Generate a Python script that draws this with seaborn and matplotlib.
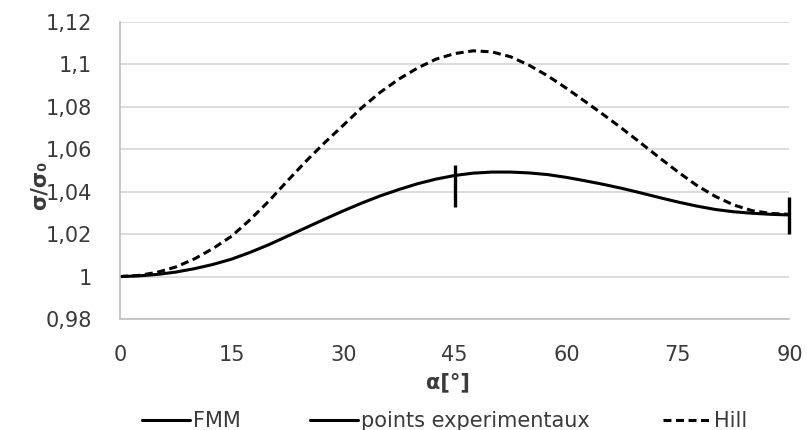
import matplotlib
matplotlib.use("Agg")
import matplotlib.pyplot as plt
from matplotlib.lines import Line2D
from matplotlib.ticker import FuncFormatter, MultipleLocator
import seaborn as sns
import pandas as pd

# angle alpha in degrees, values of sigma/sigma0
alpha = [0, 2.5, 5, 7.5, 10, 12.5, 15, 17.5, 20, 22.5, 25, 27.5, 30, 32.5, 35, 37.5, 40, 42.5,
         45, 47.5, 50, 52.5, 55, 57.5, 60, 62.5, 65, 67.5, 70, 72.5, 75, 77.5, 80, 82.5, 85, 87.5, 90]
fmm = [1.0000, 1.0003, 1.0010, 1.0021, 1.0037, 1.0057, 1.0082, 1.0114, 1.0150, 1.0190, 1.0230,
       1.0270, 1.0309, 1.0346, 1.0380, 1.0410, 1.0437, 1.0459, 1.0476, 1.0487, 1.0492, 1.0492,
       1.0488, 1.0480, 1.0467, 1.0451, 1.0434, 1.0415, 1.0394, 1.0372, 1.0351, 1.0332, 1.0316,
       1.0305, 1.0298, 1.0293, 1.0290]
hill = [1.0000, 1.0005, 1.0020, 1.0045, 1.0083, 1.0132, 1.0190, 1.0268, 1.0355, 1.0450, 1.0543,
        1.0630, 1.0712, 1.0795, 1.0868, 1.0930, 1.0982, 1.1024, 1.1050, 1.1063, 1.1058, 1.1035,
        1.0995, 1.0945, 1.0887, 1.0825, 1.0762, 1.0697, 1.0629, 1.0560, 1.0493, 1.0430, 1.0378,
        1.0337, 1.0310, 1.0297, 1.0293]

# experimental points (vertical bars)
exp_alpha = [45, 90]
exp_lo = [1.0327, 1.0200]
exp_hi = [1.0525, 1.0376]

sns.set_theme(style="white")
plt.rcParams["font.family"] = ["DejaVu Sans"]

df = pd.DataFrame({"alpha": alpha, "FMM": fmm, "Hill": hill})
txt = "#3a3a3a"
fs = 15
dash = (0, (2.6, 1.5))

fig = plt.figure(figsize=(8.07, 4.30), dpi=100)
ax = fig.add_axes([0.1487, 0.2581, 0.8296, 0.6914])

sns.lineplot(data=df, x="alpha", y="Hill", ax=ax, color="black", lw=2.2, linestyle=dash)
sns.lineplot(data=df, x="alpha", y="FMM", ax=ax, color="black", lw=2.2)
ax.vlines(exp_alpha, exp_lo, exp_hi, color="black", lw=2.4, clip_on=False, zorder=5)

ax.set_xlim(0, 90)
ax.set_ylim(0.98, 1.12)
ax.xaxis.set_major_locator(MultipleLocator(15))
ax.yaxis.set_major_locator(MultipleLocator(0.02))
ax.yaxis.set_major_formatter(FuncFormatter(
    lambda v, p: f"{v:.2f}".rstrip("0").rstrip(".").replace(".", ",")))
ax.grid(axis="y", color="#d9d9d9", lw=1.3)
ax.grid(axis="x", visible=False)
for s in ["top", "right"]:
    ax.spines[s].set_visible(False)
for s in ["left", "bottom"]:
    ax.spines[s].set_color("#bfbfbf")
    ax.spines[s].set_linewidth(1.2)
ax.tick_params(axis="both", which="major", labelsize=fs, colors=txt,
               length=5, width=1, direction="out", color="#bfbfbf")
ax.tick_params(axis="x", pad=14)
ax.tick_params(axis="y", pad=15)

ax.set_xlabel("α[°]", fontsize=fs, fontweight="bold", color=txt, va="top")
ax.xaxis.set_label_coords(0.49, -0.18)
ax.set_ylabel("σ/σ₀", fontsize=fs, fontweight="bold", color=txt)
ax.yaxis.set_label_coords(-0.105, 0.45)

# legend: three separate entries placed like the original
entries = [("FMM", "-", 142), ("points experimentaux", "-", 310), ("Hill", dash, 663)]
for label, ls, xpx in entries:
    h = Line2D([], [], color="black", lw=2.2, linestyle=ls)
    fig.legend([h], [label], loc="center left", bbox_to_anchor=(xpx / 807, 0.0202),
               frameon=False, fontsize=fs, handlelength=2.3, handletextpad=0.15,
               borderpad=0, borderaxespad=0, labelcolor=txt)

fig.savefig("out.png", dpi=100)
